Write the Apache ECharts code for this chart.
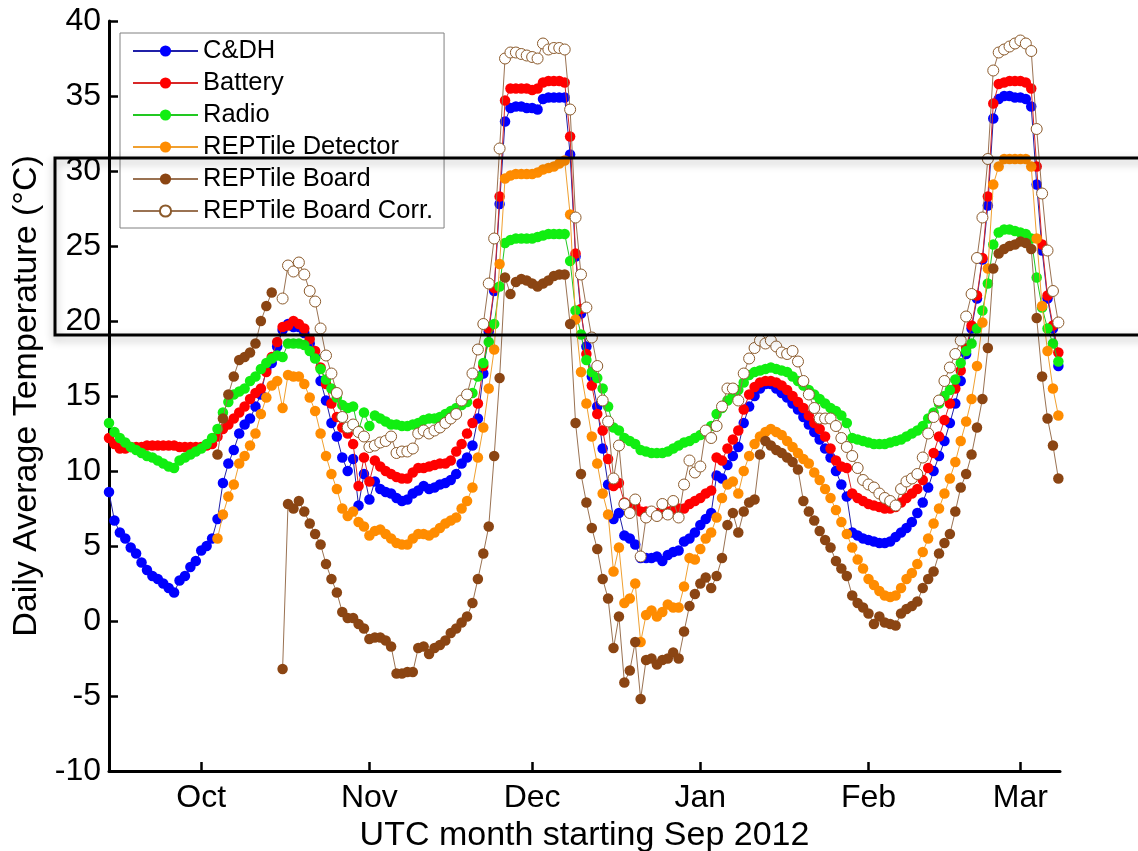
<!DOCTYPE html>
<html>
<head>
<meta charset="utf-8">
<style>
html,body{margin:0;padding:0;background:#fff;}
#chart{width:1138px;height:851px;}
</style>
<script src="https://cdn.jsdelivr.net/npm/echarts@6/dist/echarts.min.js"></script>
</head>
<body>
<div id="chart"></div>
<script>
// Daily values, first day = 2012-09-14 (UTC), one value per day
var startDate = [2012, 8, 14];
var seriesNames = ['C&DH', 'Battery', 'Radio', 'REPTile Detector', 'REPTile Board', 'REPTile Board Corr.'];
var monthTickDates = [[2012,9,1],[2012,10,1],[2012,11,1],[2013,0,1],[2013,1,1],[2013,2,1]];
var monthNames = ['Jan','Feb','Mar','Apr','May','Jun','Jul','Aug','Sep','Oct','Nov','Dec'];
var yTicks = {min: -10, max: 40, step: 5};

var cdh = [8.6,6.7,5.9,5.5,4.9,4.5,3.9,3.4,3.0,2.8,2.5,2.2,1.9,2.7,3.0,3.6,4.0,4.7,5.0,5.5,
6.8,9.2,10.5,11.4,12.5,13.1,13.5,14.3,15.1,16.8,17.2,18.3,19.4,19.8,19.6,19.6,19.2,18.5,17.6,16.0,
14.7,13.2,12.3,10.9,10.0,10.8,7.7,9.8,8.1,9.3,8.8,8.6,8.5,8.2,8.0,8.1,8.5,8.7,9.0,8.8,
8.9,9.1,9.2,9.4,9.8,10.5,10.9,11.7,13.5,16.5,19.3,22.0,27.8,33.3,34.2,34.3,34.3,34.2,34.2,34.1,
34.8,34.9,34.9,34.9,34.9,31.1,24.3,20.5,18.3,16.3,14.3,11.5,9.1,6.8,7.2,5.7,5.5,5.1,4.2,4.2,
4.2,4.3,4.0,4.4,4.6,4.7,5.3,5.5,5.9,6.4,6.8,7.2,9.7,9.5,10.4,11.0,11.6,13.2,14.3,15.0,
15.5,15.8,15.8,15.5,15.2,14.9,14.5,14.1,13.6,13.1,12.6,12.1,11.5,10.9,10.0,9.1,8.3,5.9,5.7,5.5,
5.4,5.3,5.2,5.2,5.3,5.6,5.9,6.2,6.6,7.2,7.9,8.9,10.0,11.0,12.0,13.2,14.5,16.0,17.8,19.5,
21.5,24.1,27.7,33.5,34.8,35.0,35.0,34.9,34.9,34.8,34.3,29.1,24.7,21.5,19.5,17.0];

var battery = [12.2,11.8,11.5,11.5,11.6,11.6,11.6,11.7,11.7,11.7,11.7,11.7,11.7,11.6,11.6,11.6,11.6,11.6,11.7,11.8,
12.3,12.8,13.1,13.5,13.9,14.3,14.8,15.2,15.5,16.6,17.6,18.6,19.6,19.7,20.0,19.8,19.5,18.8,18.0,16.9,
15.8,14.5,13.6,12.9,12.5,11.8,9.0,10.9,9.3,10.7,10.3,10.0,9.8,9.6,9.5,9.5,9.9,10.2,10.2,10.3,
10.4,10.5,10.5,10.7,11.3,11.8,12.5,13.2,14.5,17.0,19.5,22.2,28.3,34.7,35.5,35.5,35.5,35.5,35.4,35.5,
35.9,36.0,36.0,36.0,35.9,32.3,24.5,20.8,17.8,15.7,13.8,12.7,10.8,9.0,9.2,7.9,7.7,7.7,7.3,7.3,
7.2,7.2,7.2,7.3,7.4,7.5,7.5,7.8,8.0,8.2,8.5,8.7,10.9,10.7,11.5,12.1,12.7,14.1,15.1,15.6,
15.9,16.0,16.0,15.9,15.7,15.4,15.0,14.6,14.2,13.7,13.2,12.8,12.3,11.5,10.7,10.3,10.2,8.5,8.2,8.0,
7.8,7.7,7.6,7.5,7.5,7.6,7.9,8.2,8.5,8.8,9.4,10.2,11.2,12.3,13.4,14.5,15.5,16.7,18.2,19.7,
21.7,24.2,28.3,34.5,35.8,35.9,36.0,36.0,36.0,35.9,35.5,30.3,25.1,21.7,19.7,17.9];

var radio = [13.2,12.6,12.2,11.9,11.6,11.4,11.2,11.0,10.9,10.7,10.5,10.3,10.2,10.7,10.9,11.1,11.3,11.5,11.8,12.2,
12.8,13.9,14.6,15.1,15.3,15.5,16.0,16.3,16.8,17.2,17.5,17.7,17.6,18.5,18.5,18.5,18.4,18.0,17.5,16.8,
16.1,15.5,14.9,14.4,14.2,14.3,12.7,13.9,13.0,13.7,13.5,13.3,13.1,13.1,13.0,13.0,13.1,13.2,13.4,13.5,
13.5,13.6,13.8,14.0,14.2,14.4,14.6,15.2,16.3,17.2,18.6,19.8,22.3,25.2,25.4,25.5,25.5,25.5,25.5,25.6,
25.7,25.8,25.8,25.8,25.8,24.0,20.7,19.1,17.4,16.6,16.2,15.5,14.3,12.9,12.7,12.2,12.0,11.8,11.4,11.3,
11.2,11.2,11.2,11.3,11.5,11.7,11.9,12.0,12.2,12.4,12.6,13.0,13.8,14.2,14.7,15.0,15.4,15.9,16.4,16.6,
16.7,16.8,16.9,16.8,16.7,16.6,16.3,16.0,15.7,15.4,15.1,14.8,14.5,14.2,14.0,13.7,13.2,12.2,12.1,12.0,
11.9,11.8,11.8,11.8,11.9,12.0,12.1,12.3,12.5,12.7,13.0,13.5,13.9,14.5,15.0,15.4,16.1,17.2,18.0,18.5,
19.5,20.7,22.5,25.1,25.9,26.1,26.1,26.0,25.9,25.8,25.5,22.9,20.9,19.5,18.5,17.3];

var detector = [null,null,null,null,null,null,null,null,null,null,null,null,null,null,null,null,null,null,null,null,
5.5,7.1,8.3,9.1,10.5,11.0,11.7,12.5,13.8,14.9,15.7,16.0,14.2,16.4,16.3,16.3,15.8,14.9,14.0,12.5,
11.0,9.8,8.8,7.5,7.0,7.3,6.6,6.3,5.7,6.0,6.1,5.8,5.5,5.2,5.1,5.1,5.5,5.8,5.8,5.7,
5.9,6.2,6.5,6.7,6.9,7.5,8.0,8.9,10.9,12.9,15.5,18.1,23.8,29.5,29.7,29.8,29.8,29.8,29.8,29.9,
30.1,30.2,30.3,30.5,30.7,27.1,20.1,16.6,14.5,12.3,10.5,8.5,7.1,3.3,4.9,1.2,1.5,2.5,-1.4,0.4,
0.7,0.3,0.6,1.1,0.9,0.9,2.3,4.2,4.1,4.8,5.5,5.9,6.9,8.2,9.1,9.3,8.5,10.0,11.0,11.8,
12.3,12.6,12.8,12.6,12.4,12.0,11.6,11.2,10.8,10.5,9.9,9.4,8.8,8.2,7.4,6.6,5.8,4.9,4.1,3.5,
2.8,2.4,2.0,1.7,1.6,1.7,2.2,2.8,3.2,3.8,4.6,5.5,6.5,7.5,8.5,9.5,10.6,12.0,13.3,14.8,
17.0,19.9,23.5,29.1,30.3,30.8,30.8,30.8,30.8,30.8,30.3,25.5,21.0,18.0,15.5,13.7];

var board = [null,null,null,null,null,null,null,null,null,null,null,null,null,null,null,null,null,null,null,null,
11.1,13.5,15.1,16.3,17.4,17.6,17.9,18.5,20.0,21.0,21.9,null,-3.2,7.8,7.5,8.0,7.3,6.5,5.8,5.1,
3.8,2.8,1.9,0.6,0.2,0.2,-0.2,-0.5,-1.2,-1.1,-1.1,-1.3,-1.7,-3.5,-3.5,-3.4,-3.4,-1.8,-1.7,-2.2,
-1.8,-1.6,-1.3,-0.8,-0.5,-0.1,0.3,1.2,2.8,4.5,6.3,11.0,16.2,22.9,21.8,22.6,22.8,22.7,22.5,22.3,
22.5,22.7,23.0,23.1,23.1,19.8,13.2,9.8,7.9,6.2,4.8,2.8,1.5,-1.8,0.3,-4.1,-3.3,-1.4,-5.2,-2.6,
-2.5,-2.9,-2.6,-2.5,-2.1,-2.5,-0.7,1.0,1.8,2.5,2.9,2.2,3.0,4.2,6.4,7.2,5.9,7.3,7.9,8.1,
11.1,12.0,11.7,11.4,11.2,10.9,10.6,10.1,8.0,7.3,6.7,6.0,5.4,4.9,4.0,3.5,3.0,1.7,1.2,0.9,
0.5,-0.2,0.3,-0.1,-0.2,-0.3,0.5,0.8,1.0,1.3,2.2,2.8,3.3,4.5,5.2,5.8,7.3,8.9,9.8,11.1,
12.9,14.8,18.2,23.5,24.5,24.8,25.0,25.1,25.3,25.2,24.8,20.2,16.3,13.5,11.7,9.5];

var boardCorr = [null,null,null,null,null,null,null,null,null,null,null,null,null,null,null,null,null,null,null,null,
null,null,null,null,null,null,null,null,null,null,null,null,21.5,23.7,23.3,23.9,23.1,22.0,21.3,19.5,
17.7,16.5,15.2,13.6,12.9,13.1,12.6,12.3,11.6,11.7,11.9,12.0,12.3,11.2,11.3,11.3,11.5,12.5,12.7,12.5,
12.7,12.9,13.2,13.5,13.8,14.7,15.1,16.5,18.1,19.8,22.5,25.5,31.5,37.5,37.9,37.9,37.8,37.7,37.6,37.5,
38.5,38.1,38.2,38.2,38.1,34.1,26.9,23.1,20.9,18.9,17.0,14.7,13.3,9.5,11.7,7.8,7.2,8.1,4.3,6.9,
7.3,7.0,7.8,7.1,8.0,6.9,9.1,10.7,9.9,10.3,12.7,12.2,13.0,14.3,15.5,15.5,14.7,16.5,17.5,18.2,
18.7,18.5,18.7,18.3,17.9,17.8,18.0,17.3,16.0,15.1,14.2,13.5,13.5,13.5,13.0,12.2,11.6,11.0,10.2,9.4,
9.1,8.9,8.5,8.2,8.0,7.7,8.8,9.3,9.5,9.8,10.9,12.5,13.6,14.7,16.0,16.9,17.8,18.7,20.3,21.8,
24.2,26.9,30.8,36.7,37.9,38.1,38.3,38.5,38.7,38.5,38.0,32.8,28.5,24.7,22.0,19.9];

var DAY = 86400000;
var t0 = Date.UTC(startDate[0], startDate[1], startDate[2]);
function toPairs(arr) {
  return arr.map(function (v, i) { return [t0 + i * DAY, v]; });
}
var monthTicks = monthTickDates.map(function (d) { return Date.UTC(d[0], d[1], d[2]); });

var FONT = '"Liberation Sans", Arial, Helvetica, sans-serif';

var styles = [
  {line: '#2020a8', fill: '#0000ff', border: null, size: 10.5},
  {line: '#d82828', fill: '#ff0000', border: null, size: 10.5},
  {line: '#22c822', fill: '#11ee11', border: null, size: 10.5},
  {line: '#f0a030', fill: '#ff8c00', border: null, size: 10.5},
  {line: '#9a7252', fill: '#8b4513', border: null, size: 10.5},
  {line: '#9a7252', fill: '#ffffff', border: '#8b5a2b', size: 11}
];
var allData = [cdh, battery, radio, detector, board, boardCorr];

var series = allData.map(function (arr, k) {
  var s = styles[k];
  return {
    name: seriesNames[k],
    type: 'line',
    data: toPairs(arr),
    symbol: 'circle',
    symbolSize: s.size,
    showSymbol: true,
    showAllSymbol: true,
    connectNulls: false,
    clip: false,
    lineStyle: {color: s.line, width: 1},
    itemStyle: s.border ? {color: s.fill, borderColor: s.border, borderWidth: 1}
                        : {color: s.fill, borderWidth: 0},
    emphasis: {disabled: true},
    animation: false,
    z: 2 + k
  };
});

var chart = echarts.init(document.getElementById('chart'), null, {renderer: 'canvas'});
chart.setOption({
  animation: false,
  backgroundColor: '#ffffff',
  textStyle: {fontFamily: FONT},
  grid: {left: 109, right: 78, top: 21, bottom: 80, containLabel: false, outerBoundsMode: 'none'},
  legend: {
    orient: 'vertical',
    left: 120,
    top: 33,
    backgroundColor: '#ffffff',
    borderColor: '#808080',
    borderWidth: 1,
    borderRadius: 0,
    padding: [5, 11, 4, 12],
    itemWidth: 65,
    itemHeight: 14,
    itemGap: 6,
    data: seriesNames,
    textStyle: {fontSize: 25.5, lineHeight: 25, color: '#000', fontFamily: FONT},
    selectedMode: false,
    z: 10
  },
  xAxis: {
    type: 'value',
    min: t0,
    max: t0 + 175.3 * DAY,
    name: 'UTC month starting Sep 2012',
    nameLocation: 'middle',
    nameGap: 43,
    nameTextStyle: {fontSize: 34, color: '#000', fontFamily: FONT},
    axisLine: {show: true, onZero: false, lineStyle: {color: '#000', width: 3}},
    axisTick: {show: true, inside: true, length: 9, customValues: monthTicks, lineStyle: {color: '#000', width: 2.5}},
    axisLabel: {
      customValues: monthTicks,
      fontSize: 32, color: '#000', margin: 11, fontFamily: FONT,
      formatter: function (v) { return monthNames[new Date(v).getUTCMonth()]; }
    },
    splitLine: {show: false}
  },
  yAxis: {
    type: 'value',
    min: yTicks.min,
    max: yTicks.max,
    interval: yTicks.step,
    name: 'Daily Average Temperature (°C)',
    nameLocation: 'middle',
    nameGap: 63,
    nameTextStyle: {fontSize: 34, color: '#000', fontFamily: FONT},
    axisLine: {show: true, lineStyle: {color: '#000', width: 3}},
    axisTick: {show: true, inside: true, length: 9, lineStyle: {color: '#000', width: 2.5}},
    axisLabel: {fontSize: 32, color: '#000', margin: 8, fontFamily: FONT},
    splitLine: {show: false}
  },
  graphic: [{
    type: 'rect',
    z: 100,
    silent: true,
    shape: {x: 55, y: 158, width: 1200, height: 177},
    style: {fill: 'none', stroke: '#000', lineWidth: 3,
            shadowBlur: 8, shadowColor: 'rgba(0,0,0,0.3)', shadowOffsetY: 4}
  }],
  series: series
});
</script>
</body>
</html>
